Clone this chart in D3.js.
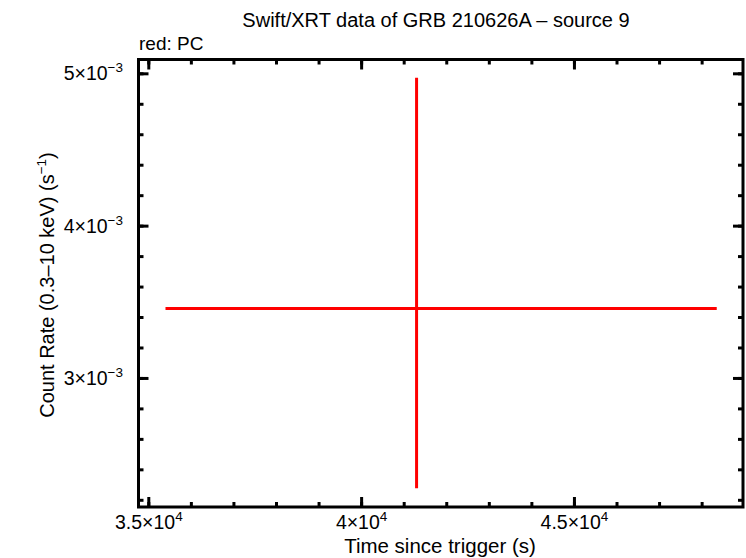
<!DOCTYPE html>
<html><head><meta charset="utf-8">
<script src="https://cdn.jsdelivr.net/npm/d3@7"></script>
<style>body{margin:0;background:#fff}svg{display:block}text{font-family:"Liberation Sans",Arial,sans-serif;fill:#000}</style>
</head><body><div id="c"></div>
<script>
const title = "Swift/XRT data of GRB 210626A \u2013 source 9";
const subtitle = "red: PC";
const xLabel = "Time since trigger (s)";
const yLabelMain = "Count Rate (0.3\u201310 keV) (s";
const xDomain = [34758, 48960];
const yDomain = [0.002156, 0.005094];
const xMajor = [35000, 40000, 45000];
const xMajorMant = ["3.5", "4", "4.5"];
const xMajorExp = ["4", "4", "4"];
const xMinor = [35000,36000,37000,38000,39000,40000,41000,42000,43000,44000,45000,46000,47000,48000];
const yMajor = [0.003, 0.004, 0.005];
const yMajorMant = ["3", "4", "5"];
const yMajorExp = ["\u22123", "\u22123", "\u22123"];
const yMinor = [0.0022,0.0024,0.0026,0.0028,0.003,0.0032,0.0034,0.0036,0.0038,0.004,0.0042,0.0044,0.0046,0.0048,0.005];
// PC data point: time, time err -, time err +, rate, rate err -, rate err +
const pcT = [41291];
const pcTlo = [35392];
const pcThi = [48343];
const pcR = [0.003459];
const pcRlo = [0.002279];
const pcRhi = [0.004974];

const W = 746, H = 558;
const m = {l:138.5, r:743, t:59.5, b:507};
const svg = d3.select("#c").append("svg").attr("width", W).attr("height", H);
const x = d3.scaleLinear().domain(xDomain).range([m.l, m.r]);
const y = d3.scaleLinear().domain(yDomain).range([m.b, m.t]);

const g = svg.append("g");
function ticks(vals, len, isX) {
  vals.forEach(v => {
    if (isX) {
      const px = x(v);
      g.append("line").attr("x1", px).attr("x2", px).attr("y1", m.b).attr("y2", m.b - len).attr("stroke", "#000").attr("stroke-width", 3);
      g.append("line").attr("x1", px).attr("x2", px).attr("y1", m.t).attr("y2", m.t + len).attr("stroke", "#000").attr("stroke-width", 3);
    } else {
      const py = y(v);
      g.append("line").attr("y1", py).attr("y2", py).attr("x1", m.l).attr("x2", m.l + len).attr("stroke", "#000").attr("stroke-width", 3);
      g.append("line").attr("y1", py).attr("y2", py).attr("x1", m.r).attr("x2", m.r - len).attr("stroke", "#000").attr("stroke-width", 3);
    }
  });
}
ticks(xMinor, 5, true);
ticks(xMajor, 10, true);
ticks(yMinor, 5, false);
ticks(yMajor, 10, false);

const pts = pcT.map((t, i) => ({t, tlo: pcTlo[i], thi: pcThi[i], r: pcR[i], rlo: pcRlo[i], rhi: pcRhi[i]}));
const dg = svg.append("g");
dg.selectAll(".h").data(pts).enter().append("line")
  .attr("x1", d => x(d.tlo)).attr("x2", d => x(d.thi))
  .attr("y1", d => y(d.r)).attr("y2", d => y(d.r))
  .attr("stroke", "#ff0000").attr("stroke-width", 3);
dg.selectAll(".v").data(pts).enter().append("line")
  .attr("x1", d => x(d.t)).attr("x2", d => x(d.t))
  .attr("y1", d => y(d.rlo)).attr("y2", d => y(d.rhi))
  .attr("stroke", "#ff0000").attr("stroke-width", 3);

svg.append("rect").attr("x", m.l).attr("y", m.t).attr("width", m.r - m.l).attr("height", m.b - m.t)
  .attr("fill", "none").attr("stroke", "#000").attr("stroke-width", 3);

xMajor.forEach((v, i) => {
  const t = svg.append("text").attr("x", x(v)).attr("y", 529).attr("text-anchor", "middle").attr("font-size", 19.5);
  t.append("tspan").text(xMajorMant[i] + "\u00d710");
  t.append("tspan").attr("dy", -8).attr("font-size", 13.5).text(xMajorExp[i]);
});
yMajor.forEach((v, i) => {
  const t = svg.append("text").attr("x", 123).attr("y", y(v) + 6.5).attr("text-anchor", "end").attr("font-size", 19.5);
  t.append("tspan").text(yMajorMant[i] + "\u00d710");
  t.append("tspan").attr("dy", -8).attr("font-size", 13.5).text(yMajorExp[i]);
});

svg.append("text").attr("x", 436).attr("y", 27).attr("text-anchor", "middle").attr("font-size", 20).text(title);
svg.append("text").attr("x", 139).attr("y", 50).attr("font-size", 19).text(subtitle);
svg.append("text").attr("x", 440).attr("y", 553).attr("text-anchor", "middle").attr("font-size", 20.5).text(xLabel);
const yl = svg.append("text").attr("transform", "translate(54,285) rotate(-90)").attr("text-anchor", "middle").attr("font-size", 20);
yl.append("tspan").text(yLabelMain);
yl.append("tspan").attr("dy", -8).attr("font-size", 13.5).text("\u22121");
yl.append("tspan").attr("dy", 8).text(")");
</script></body></html>
